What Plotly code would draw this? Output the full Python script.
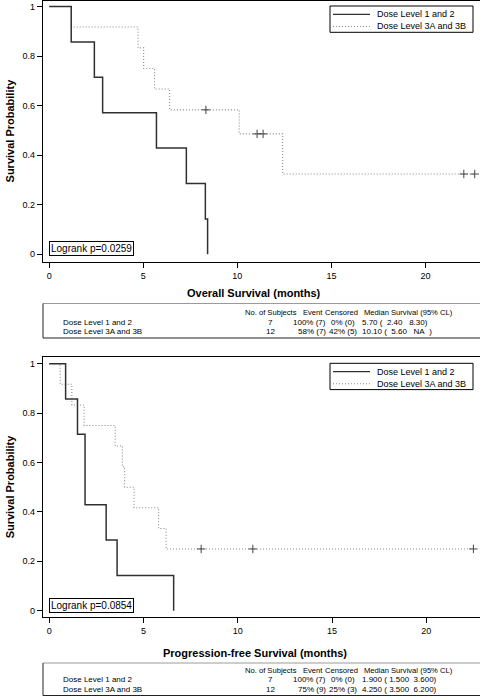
import plotly.graph_objects as go

W, H = 480, 698

# ---------------- data ----------------
group_labels = ["Dose Level 1 and 2", "Dose Level 3A and 3B"]

os_time_dl12 = [0, 1.17, 2.4, 2.84, 5.7, 7.29, 8.3, 8.42]
os_surv_dl12 = [1, 0.857, 0.714, 0.571, 0.429, 0.286, 0.143, 0]
os_time_dl3 = [0, 1.17, 4.72, 5.02, 5.6, 6.4, 10.1, 12.41, 22.62]
os_surv_dl3 = [1, 0.917, 0.833, 0.75, 0.667, 0.583, 0.486, 0.324, 0.324]
os_cens_time_dl3 = [8.33, 11.05, 11.37, 22.04, 22.62]
os_cens_surv_dl3 = [0.583, 0.486, 0.486, 0.324, 0.324]

pfs_time_dl12 = [0, 0.87, 1.5, 1.9, 3.02, 3.6, 6.6]
pfs_surv_dl12 = [1, 0.857, 0.714, 0.429, 0.286, 0.143, 0]
pfs_time_dl3 = [0, 0.58, 1.2, 1.85, 3.5, 3.88, 4.0, 4.5, 5.8, 6.2, 22.5]
pfs_surv_dl3 = [1, 0.917, 0.833, 0.75, 0.667, 0.583, 0.5, 0.417, 0.333, 0.25, 0.25]
pfs_cens_time_dl3 = [8.06, 10.8, 22.5]
pfs_cens_surv_dl3 = [0.25, 0.25, 0.25]

x_ticks = [0, 5, 10, 15, 20]
x_tick_labels = ["0", "5", "10", "15", "20"]
y_ticks = [0, 0.2, 0.4, 0.6, 0.8, 1]
y_tick_labels = ["0", "0.2", "0.4", "0.6", "0.8", "1"]

os_logrank_p = "0.0259"
pfs_logrank_p = "0.0854"

table_header = ["No. of Subjects", "Event", "Censored", "Median Survival (95% CL)"]
os_n = [7, 12]
os_events = ["100% (7)", "58% (7)"]
os_censored = ["0% (0)", "42% (5)"]
os_median = ["5.70 (\u00a0\u00a02.40\u00a0\u00a0\u00a08.30)", "10.10 (\u00a0\u00a05.60\u00a0\u00a0\u00a0NA\u00a0\u00a0)"]
pfs_n = [7, 12]
pfs_events = ["100% (7)", "75% (9)"]
pfs_censored = ["0% (0)", "25% (3)"]
pfs_median = ["1.900 (\u00a01.500\u00a0\u00a03.600)", "4.250 (\u00a03.500\u00a0\u00a06.200)"]

# ---------------- helpers ----------------
FONT = "Liberation Sans, Arial, sans-serif"
SOLID = "#303030"
DOT = "#8a8a8a"


def X(p):
    return p / W


def Y(p):
    return 1 - p / H


fig = go.Figure()


def add_panel(xa, ya, t1, s1, t2, s2, ct, cs):
    fig.add_trace(go.Scatter(x=t2, y=s2, mode="lines", line=dict(shape="hv", color=DOT, width=1.1, dash="1px,2px"),
                             name=group_labels[1], xaxis=xa, yaxis=ya, showlegend=False, hoverinfo="skip"))
    fig.add_trace(go.Scatter(x=t1, y=s1, mode="lines", line=dict(shape="hv", color=SOLID, width=1.5),
                             name=group_labels[0], xaxis=xa, yaxis=ya, showlegend=False, hoverinfo="skip"))
    fig.add_trace(go.Scatter(x=ct, y=cs, mode="markers",
                             marker=dict(symbol="cross-thin", size=6, line=dict(width=1, color="#444444")),
                             name="Censored", xaxis=xa, yaxis=ya, showlegend=False, hoverinfo="skip"))


add_panel("x", "y", os_time_dl12, os_surv_dl12, os_time_dl3, os_surv_dl3, os_cens_time_dl3, os_cens_surv_dl3)
add_panel("x2", "y2", pfs_time_dl12, pfs_surv_dl12, pfs_time_dl3, pfs_surv_dl3, pfs_cens_time_dl3, pfs_cens_surv_dl3)

axis_common = dict(showline=True, linecolor="black", linewidth=1.2, mirror=True, showgrid=False, zeroline=False,
                   ticks="outside", ticklen=5, tickwidth=1, tickcolor="black",
                   tickfont=dict(family=FONT, size=9, color="black"))

fig.update_layout(
    width=W, height=H, autosize=False,
    margin=dict(l=0, r=0, t=0, b=0),
    paper_bgcolor="white", plot_bgcolor="white",
    font=dict(family=FONT, color="black"),
    xaxis=dict(domain=[X(43), 1], range=[-0.33, 22.9], tickvals=x_ticks, ticktext=x_tick_labels,
               anchor="y", **axis_common),
    yaxis=dict(domain=[Y(261.5), Y(0.7)], range=[-0.029, 1.0234], tickvals=y_ticks, ticktext=y_tick_labels,
               anchor="x", title=dict(text="<b>Survival Probability</b>", font=dict(family=FONT, size=11), standoff=5),
               **axis_common),
    xaxis2=dict(domain=[X(43), 1], range=[-0.33, 22.85], tickvals=x_ticks, ticktext=x_tick_labels,
                anchor="y2", **axis_common),
    yaxis2=dict(domain=[Y(616.7), Y(357.3)], range=[-0.0243, 1.0259], tickvals=y_ticks, ticktext=y_tick_labels,
                anchor="x2", title=dict(text="<b>Survival Probability</b>", font=dict(family=FONT, size=11), standoff=5),
                **axis_common),
)

shapes = []
ann = []

# x axis titles
ann.append(dict(x=X(254), y=Y(293), xref="paper", yref="paper", text="<b>Overall Survival (months)</b>",
                showarrow=False, xanchor="center", yanchor="middle", font=dict(family=FONT, size=11)))
ann.append(dict(x=X(255), y=Y(653), xref="paper", yref="paper", text="<b>Progression-free Survival (months)</b>",
                showarrow=False, xanchor="center", yanchor="middle", font=dict(family=FONT, size=11)))

# logrank boxes
for p, yc in [(os_logrank_p, 248.5), (pfs_logrank_p, 605)]:
    ann.append(dict(x=X(49), y=Y(yc), xref="paper", yref="paper", text="Logrank p=" + p, showarrow=False,
                    xanchor="left", yanchor="middle", font=dict(family=FONT, size=10),
                    bordercolor="black", borderwidth=1, borderpad=1, bgcolor="white"))

# legends (drawn)
for top in [6, 363.3]:
    shapes.append(dict(type="rect", xref="paper", yref="paper", x0=X(330), x1=X(473), y0=Y(top), y1=Y(top + 26.3),
                       line=dict(color="black", width=1), fillcolor="white", layer="above"))
    r1, r2 = top + 8.3, top + 20.5
    shapes.append(dict(type="line", xref="paper", yref="paper", x0=X(333), x1=X(370), y0=Y(r1), y1=Y(r1),
                       line=dict(color=SOLID, width=1.2), layer="above"))
    shapes.append(dict(type="line", xref="paper", yref="paper", x0=X(333), x1=X(370), y0=Y(r2), y1=Y(r2),
                       line=dict(color=DOT, width=1.1, dash="1px,2px"), layer="above"))
    for lab, r in zip(group_labels, [r1, r2]):
        ann.append(dict(x=X(375), y=Y(r), xref="paper", yref="paper", text=lab, showarrow=False,
                        xanchor="left", yanchor="middle", font=dict(family=FONT, size=9)))

# tables
def add_table(top, bottom, rows_y, n, ev, ce, med):
    shapes.append(dict(type="line", xref="paper", yref="paper", x0=X(43), x1=1, y0=Y(top), y1=Y(top),
                       line=dict(color="#9a9a9a", width=1)))
    shapes.append(dict(type="line", xref="paper", yref="paper", x0=X(43), x1=1, y0=Y(bottom), y1=Y(bottom),
                       line=dict(color="#222222", width=1)))
    shapes.append(dict(type="line", xref="paper", yref="paper", x0=X(43), x1=X(43), y0=Y(top), y1=Y(bottom),
                       line=dict(color="#222222", width=1)))
    hfs, fs = 7.6, 8.0
    hy = rows_y[0]
    for txt, xc in zip(table_header, [271, 312.5, 341.5, 408.5]):
        ann.append(dict(x=X(xc), y=Y(hy), xref="paper", yref="paper", text=txt, showarrow=False,
                        xanchor="center", yanchor="middle", font=dict(family=FONT, size=hfs)))
    for i in range(2):
        ry = rows_y[i + 1]
        cells = [(group_labels[i], 61, "left"), (str(n[i]), 270, "center"), (ev[i], 328, "right"),
                 (ce[i], 343, "center"), (med[i], 360, "left")]
        for txt, xc, anc in cells:
            ann.append(dict(x=X(xc), y=Y(ry), xref="paper", yref="paper", text=txt, showarrow=False,
                            xanchor=anc, yanchor="middle", font=dict(family=FONT, size=fs)))


add_table(303.5, 338, [312, 322, 331.5], os_n, os_events, os_censored, os_median)
add_table(663, 695.5, [670, 679.5, 689], pfs_n, pfs_events, pfs_censored, pfs_median)

fig.update_layout(shapes=shapes, annotations=ann)
fig.write_html("out.html", config={"displayModeBar": False, "staticPlot": True},
               post_script="document.body.style.margin='0';document.body.style.overflow='hidden';")
